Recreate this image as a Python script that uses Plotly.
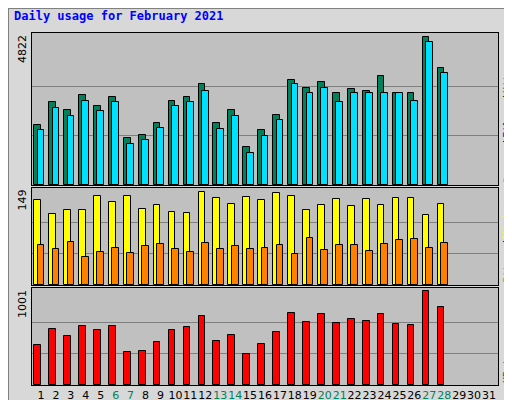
import plotly.graph_objects as go

days = list(range(1, 32))
hits = [1955,2700,2440,2930,2570,2860,1530,1630,2020,2730,2860,3300,2020,2440,1230,1790,2280,3430,3170,3370,2990,3140,3080,3550,3010,3010,4822,3820]
files = [1790,2510,2250,2730,2410,2700,1340,1470,1860,2570,2700,3080,1830,2250,1040,1590,2120,3300,2990,3170,2700,2990,2990,3010,2990,2730,4660,3660]
visits = [135,113,118,118,141,132,141,121,127,116,114,147,138,128,139,135,146,141,118,127,136,125,136,127,138,138,110,128]
sites = [63,57,68,44,52,58,51,62,65,57,52,67,57,62,57,59,63,49,74,55,63,63,54,65,71,73,59,67]
kbytes = [420,592,517,624,581,624,355,366,452,581,614,732,463,527,334,441,560,764,667,753,657,700,678,753,646,635,1001,829]
tick_colors = {6: "#00805C", 7: "#00805C", 13: "#00805C", 14: "#00805C", 20: "#00805C", 21: "#00805C", 27: "#00805C", 28: "#00805C"}
ticktext = [f'<span style="color:{tick_colors.get(d, "black")}">{d}</span>' for d in days]

fig = go.Figure()
n = len(hits)
x = days[:n]
def bar(y, color, off, xa, ya):
    fig.add_trace(go.Bar(x=x, y=y, marker=dict(color=color, line=dict(color="black", width=1)),
                         width=0.45, offset=off, xaxis=xa, yaxis=ya, showlegend=False))
bar(hits, "#00805C", -0.45, "x", "y")
bar(files, "#00E0FF", -0.22, "x", "y")
bar(visits, "#FFFF00", -0.45, "x2", "y2")
bar(sites, "#FF8000", -0.22, "x2", "y2")
bar(kbytes, "#FF0000", -0.45, "x3", "y3")

xd = [24/512, 490/512]
doms = [[1-177/400, 1-25/400], [1-277/400, 1-180/400], [1-377/400, 1-280/400]]
maxes = [4822, 149, 1001]
lay = dict(width=512, height=400, margin=dict(l=0, r=0, t=0, b=0), paper_bgcolor="#D8D8D8",
           plot_bgcolor="#C0C0C0", barmode="overlay", bargap=0, font=dict(family="DejaVu Sans", size=11, color="black"))
for i, (dom, m) in enumerate(zip(doms, maxes)):
    s = "" if i == 0 else str(i+1)
    lay["xaxis"+s] = dict(domain=xd, range=[0.4, 31.6], anchor="y"+s, showline=True, linecolor="black", mirror=True,
                          tickvals=days if i == 2 else [], ticktext=ticktext if i == 2 else None, tickangle=0,
                          showgrid=False, zeroline=False, ticks="", tickfont=dict(size=11))
    lay["yaxis"+s] = dict(domain=dom, range=[0, m*1.03], anchor="x"+s, showline=True, linecolor="black", mirror=True,
                          tickvals=[m/3, 2*m/3], showticklabels=False, gridcolor="#808080", zeroline=False, ticks="")
fig.update_layout(**lay)

anns = [dict(x=4/512, y=1-8/400, xref="paper", yref="paper", xanchor="left", yanchor="middle", showarrow=False,
             text="<b>Daily usage for February 2021</b>", font=dict(family="DejaVu Sans Mono", size=12, color="#0000FF"))]
for (dom, m) in zip(doms, maxes):
    anns.append(dict(x=14/512, y=dom[1], xref="paper", yref="paper", yanchor="top", xanchor="center", textangle=-90,
                     showarrow=False, text=str(m), font=dict(size=11, color="black")))
# right labels: (text, color, panel index, bottom y in px)
right_words = [("Pages", "#00E0FF", 177), ("/", "black", 140), ("Files", "#0000FF", 132), ("/", "black", 95), ("Hits", "#00805C", 87),
               ("Sites", "#FF8000", 277), ("/", "black", 240), ("Visits", "#FFFF00", 232),
               ("KBytes", "#FF0000", 377)]
for t, c, ypx in right_words:
    anns.append(dict(x=499/512, y=1-ypx/400, xref="paper", yref="paper", yanchor="bottom", xanchor="center",
                     textangle=-90, showarrow=False, text=t, font=dict(family="DejaVu Sans Mono", size=10, color=c)))
fig.update_layout(annotations=anns,
                  shapes=[dict(type="rect", xref="paper", yref="paper", x0=0, y0=0, x1=1, y1=1,
                               line=dict(color="#808080", width=2))])
fig.write_html("out.html")
